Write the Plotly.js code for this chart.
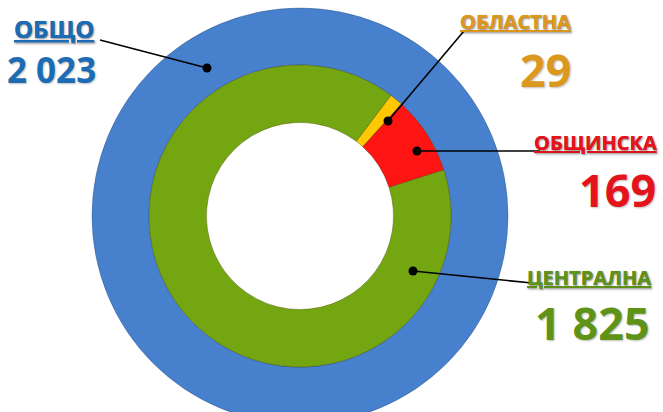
<!DOCTYPE html>
<html><head><meta charset="utf-8">
<script src="https://cdn.plot.ly/plotly-3.0.1.min.js"></script>
<style>html,body{margin:0;padding:0;overflow:hidden;background:#fff;width:663px;height:412px}#chart{width:663px;height:440px}</style>
</head><body><div id="chart"></div>
<script>
// ---- data ----
const totalLabel = 'ОБЩО';
const totalValues = [2023];
const categories = ['ОБЛАСТНА', 'ОБЩИНСКА', 'ЦЕНТРАЛНА'];
const values = [29, 169, 1825];

// ---- style ----
const totalColor = '#4780cc';
const sliceColors = ['#ffc800', '#ff1414', '#74a611'];
const textColors = {total: '#1c6bb4', 'ОБЛАСТНА': '#dc981c', 'ОБЩИНСКА': '#e3141c', 'ЦЕНТРАЛНА': '#5f9318'};

const W = 663, H = 440;
const px = x => x / W, py = y => 1 - y / H;
const fmt = v => String(v).replace(/\B(?=(\d{3})+(?!\d))/g, ' ');

const cx = 300, cy = 216, rOuter = 208, rMid = 151, rHole = 93.5;

const traces = [
  {type: 'pie', labels: [totalLabel], values: totalValues, sort: false,
   marker: {colors: [totalColor], line: {color: 'rgba(30,60,110,0.35)', width: 1}},
   hole: rMid / rOuter, textinfo: 'none', hoverinfo: 'skip',
   domain: {x: [px(cx - rOuter), px(cx + rOuter)], y: [py(cy + rOuter), py(cy - rOuter)]}},
  {type: 'pie', labels: categories, values: values, sort: false, direction: 'clockwise', rotation: 37,
   marker: {colors: sliceColors, line: {color: 'rgba(60,60,0,0.35)', width: 1}},
   hole: rHole / rMid, textinfo: 'none', hoverinfo: 'skip',
   domain: {x: [px(cx - rMid), px(cx + rMid)], y: [py(cy + rMid), py(cy - rMid)]}}
];

const labelSpecs = [
  {key: 'total', name: totalLabel, value: totalValues[0], side: 'left', x: 12, xv: 5, yName: 28.5, yVal: 70, ns: 24, vs: 35, from: [100, 40], dot: [207, 68]},
  {key: 'ОБЛАСТНА', name: categories[0], value: values[0], side: 'right', x: 573, xv: 573, yName: 21.5, yVal: 69, ns: 20, vs: 45, from: [464, 31], dot: [388, 121]},
  {key: 'ОБЩИНСКА', name: categories[1], value: values[1], side: 'right', x: 659, xv: 658, yName: 143, yVal: 189, ns: 20, vs: 45, from: [540, 151], dot: [417, 151]},
  {key: 'ЦЕНТРАЛНА', name: categories[2], value: values[2], side: 'right', x: 653, xv: 652, yName: 277, yVal: 322, ns: 20, vs: 45, from: [532, 283], dot: [413, 271]}
];

const annotations = [], shapes = [];
labelSpecs.forEach(s => {
  const col = textColors[s.key];
  const fontBase = {family: 'Open Sans, sans-serif', color: col, weight: 700, shadow: '1px 1px 2px rgba(0,0,0,0.25)'};
  annotations.push({xref: 'paper', yref: 'paper', x: px(s.x), y: py(s.yName), xanchor: s.side, yanchor: 'middle',
    showarrow: false, text: '<u>' + s.name + '</u>', font: Object.assign({size: s.ns}, fontBase)});
  annotations.push({xref: 'paper', yref: 'paper', x: px(s.xv), y: py(s.yVal), xanchor: s.side, yanchor: 'middle',
    showarrow: false, text: fmt(s.value), font: Object.assign({size: s.vs}, fontBase)});
  shapes.push({type: 'line', xref: 'paper', yref: 'paper', x0: px(s.from[0]), y0: py(s.from[1]), x1: px(s.dot[0]), y1: py(s.dot[1]),
    line: {color: '#000', width: 1.6}});
  shapes.push({type: 'circle', xref: 'paper', yref: 'paper', xsizemode: 'pixel', ysizemode: 'pixel',
    xanchor: px(s.dot[0]), yanchor: py(s.dot[1]), x0: -4.5, x1: 4.5, y0: -4.5, y1: 4.5,
    fillcolor: '#000', line: {width: 0}});
});

const layout = {width: W, height: H, margin: {l: 0, r: 0, t: 0, b: 0}, showlegend: false,
  paper_bgcolor: '#fff', plot_bgcolor: '#fff', annotations, shapes};

Plotly.newPlot('chart', traces, layout, {displayModeBar: false, staticPlot: true});
</script></body></html>
